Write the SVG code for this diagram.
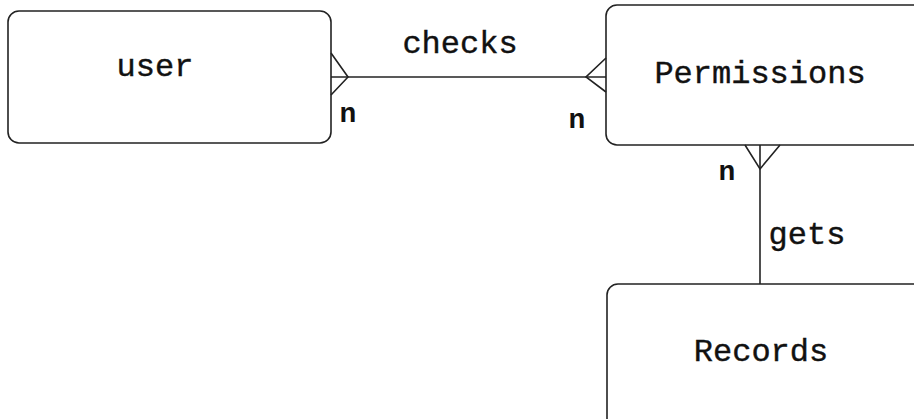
<svg xmlns="http://www.w3.org/2000/svg" width="914" height="419" viewBox="0 0 914 419">
<style>
.box{fill:#fff;stroke:#222;stroke-width:1.6}
.ln{fill:none;stroke:#222;stroke-width:1.6}
.t{font-family:"Liberation Mono","Courier New",monospace;font-size:32px;fill:#111;stroke:#111;stroke-width:0.4}
.n{font-family:"Liberation Mono","Courier New",monospace;font-size:28px;font-weight:bold;fill:#111}
</style>
<rect width="914" height="419" fill="#fff"/>
<g id="user">
<rect class="box" x="8" y="11" width="323" height="132" rx="11"/>
<text class="t" x="155" y="76" text-anchor="middle">user</text>
</g>
<g id="permissions">
<rect class="box" x="606" y="5" width="330" height="140" rx="11"/>
<text class="t" x="760" y="83" text-anchor="middle">Permissions</text>
</g>
<g id="records">
<rect class="box" x="607" y="284" width="330" height="160" rx="11"/>
<text class="t" x="761" y="361" text-anchor="middle">Records</text>
</g>
<g id="connectors">
<line class="ln" x1="331" y1="77" x2="606" y2="77"/>
<polyline class="ln" points="331,53 348,77 331,95"/>
<polyline class="ln" points="606,58 586,77 606,92"/>
<line class="ln" x1="760" y1="145" x2="760" y2="284"/>
<polyline class="ln" points="745,145 760,169 780,145"/>
<text class="t" x="460" y="53" text-anchor="middle">checks</text>
<text class="t" x="807" y="244" text-anchor="middle">gets</text>
<text class="n" x="348" y="122" text-anchor="middle">n</text>
<text class="n" x="577" y="128" text-anchor="middle">n</text>
<text class="n" x="727" y="180" text-anchor="middle">n</text>
</g>
</svg>
